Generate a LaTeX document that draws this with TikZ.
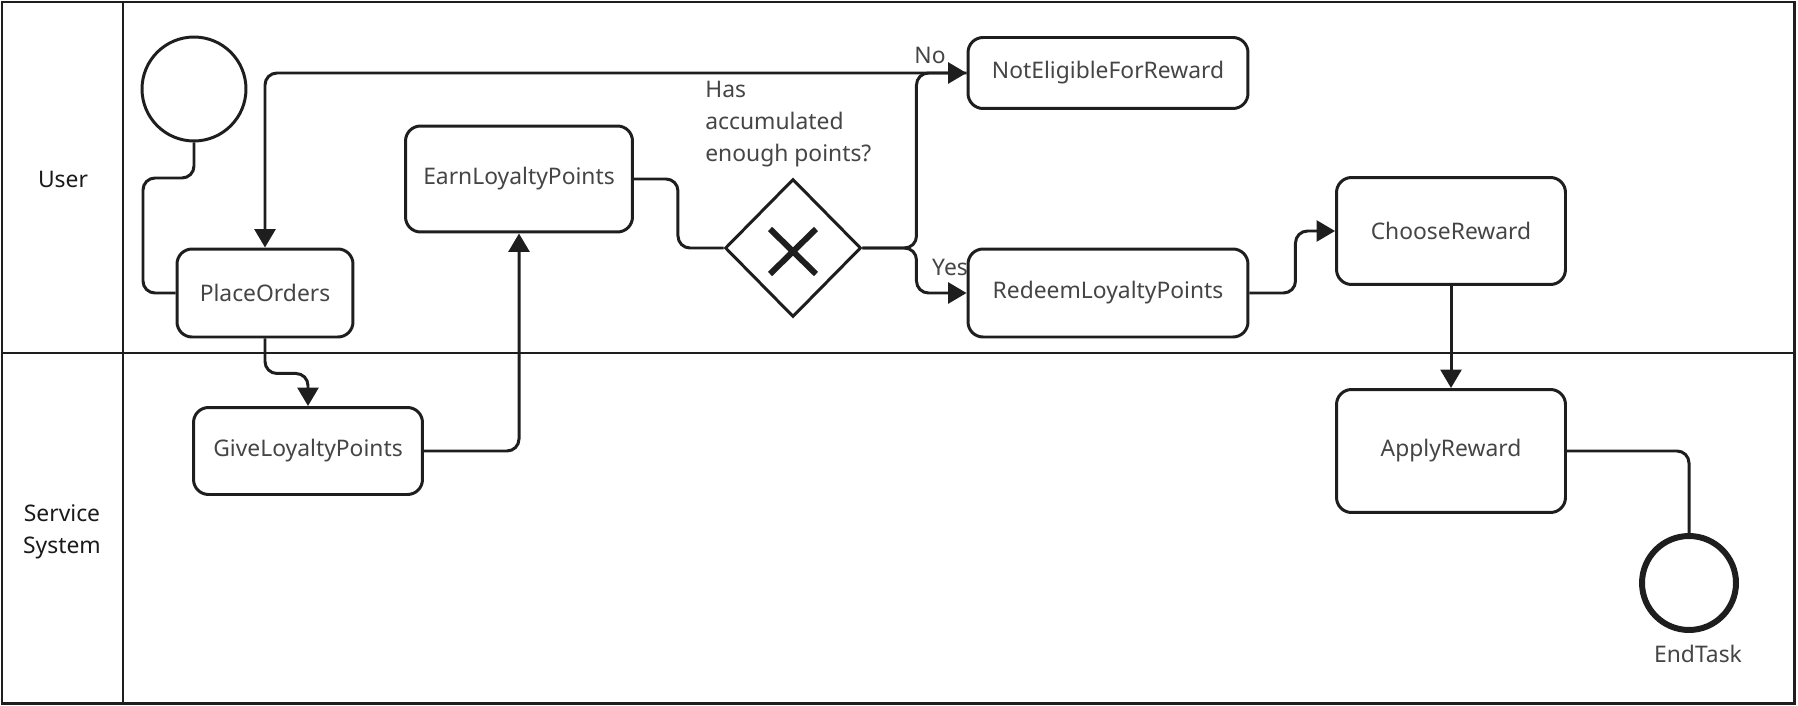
\documentclass[tikz,border=0pt]{standalone}
\usepackage{fontspec}
\setmainfont{Noto Sans}
\usetikzlibrary{arrows.meta,shapes.geometric}
\definecolor{lineclr}{HTML}{1E1E1E}
\definecolor{txtclr}{HTML}{454545}
\definecolor{lanetxt}{HTML}{1A1A1A}

\begin{document}
\begin{tikzpicture}[x=0.02cm,y=-0.02cm]
% Diagram style
\tikzset{
    task/.style={draw=lineclr,line width=1.7pt,rounded corners=0.3cm,
        text=txtclr,font=\fontsize{13}{18}\selectfont},
    lbl/.style={text=txtclr,font=\fontsize{13}{18}\selectfont,inner sep=0pt},
    lanelbl/.style={text=lanetxt,font=\fontsize{13}{18}\selectfont,align=center},
    flow/.style={draw=lineclr,line width=1.7pt,rounded corners=0.24cm},
    arr/.style={flow,-{Triangle[length=0.37cm,width=0.42cm]}}
}
\useasboundingbox (0,0) rectangle (1798,706);
% Lanes
\draw[lineclr,line width=1.7pt] (2,2) rectangle (1794,703);
\draw[lineclr,line width=1.7pt] (123,2) -- (123,703);
\draw[lineclr,line width=1.7pt] (2,353) -- (1794,353);
\node[lanelbl] (user) at (63,179){User};
\node[lanelbl] (sys) at (62,532){Service\\System};
% Events and tasks
\node[circle,draw=lineclr,line width=1.7pt,minimum size=2.08cm,inner sep=0pt] (start) at (194,89){};
\node[task,minimum width=3.52cm,minimum height=1.76cm] (po) at (265,293){PlaceOrders};
\node[task,minimum width=4.58cm,minimum height=1.74cm] (give) at (308,451){GiveLoyaltyPoints};
\node[task,minimum width=4.54cm,minimum height=2.12cm] (earn) at (519,179){EarnLoyaltyPoints};
\node[diamond,draw=lineclr,line width=1.7pt,minimum width=2.72cm,minimum height=2.76cm,inner sep=0pt] (gw) at (793,248){};
\draw[lineclr,line width=3.4pt] (770,229) -- (816,274) (816,229) -- (770,274);
\node[lbl,align=left,anchor=west] (ask) at (705,124){Has\\accumulated\\enough points?};
\node[task,minimum width=5.6cm,minimum height=1.42cm] (ne) at (1108,73){NotEligibleForReward};
\node[task,minimum width=5.6cm,minimum height=1.76cm] (rl) at (1108,293){RedeemLoyaltyPoints};
\node[task,minimum width=4.58cm,minimum height=2.14cm] (cr) at (1451,231){ChooseReward};
\node[task,minimum width=4.58cm,minimum height=2.46cm] (ar) at (1451,451){ApplyReward};
\node[circle,draw=lineclr,line width=3.4pt,minimum size=1.88cm,inner sep=0pt] (end) at (1689,583){};
\node[lbl] (endlbl) at (1698,654){EndTask};
% Flows
\draw[flow] (start.south) |- (143,178) |- (po.west);
\draw[arr] (po.south) -- ++(0,35) -| (give.north);
\draw[arr] (give.east) -| (earn.south);
\draw[flow] (earn.east) -- ++(44,0) |- (gw.west);
\draw[arr] (ne.west) -| (po.north);
\draw[arr] (gw.east) -- ++(54,0) |- (ne.west);
\draw[arr] (gw.east) -- ++(54,0) |- (rl.west);
\node[lbl] (no) at (930,55){No};
\node[lbl] (yes) at (950,267){Yes};
\draw[arr] (rl.east) -- ++(46,0) |- (cr.west);
\draw[arr] (cr.south) -- (ar.north);
\draw[flow] (ar.east) -| (end.north);
\end{tikzpicture}
\end{document}
